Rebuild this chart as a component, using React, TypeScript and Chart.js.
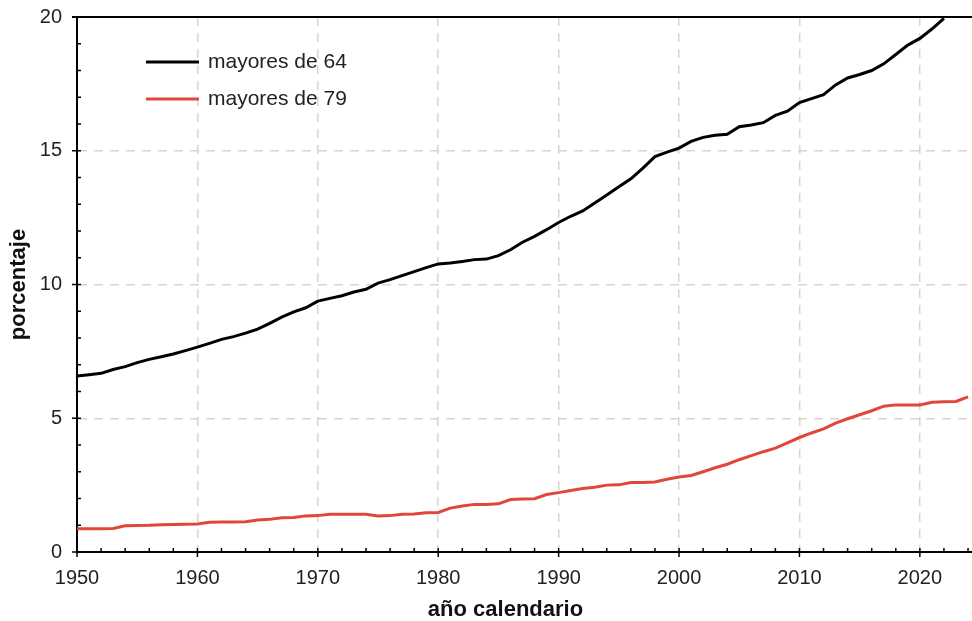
import React, { useEffect, useRef } from 'react';
import { Chart, registerables } from 'chart.js';

Chart.register(...registerables);

const years = [
  1950, 1951, 1952, 1953, 1954, 1955, 1956, 1957, 1958, 1959,
  1960, 1961, 1962, 1963, 1964, 1965, 1966, 1967, 1968, 1969,
  1970, 1971, 1972, 1973, 1974, 1975, 1976, 1977, 1978, 1979,
  1980, 1981, 1982, 1983, 1984, 1985, 1986, 1987, 1988, 1989,
  1990, 1991, 1992, 1993, 1994, 1995, 1996, 1997, 1998, 1999,
  2000, 2001, 2002, 2003, 2004, 2005, 2006, 2007, 2008, 2009,
  2010, 2011, 2012, 2013, 2014, 2015, 2016, 2017, 2018, 2019,
  2020, 2021, 2022, 2023, 2024,
];

// porcentaje de la población mayor de 64 años (1950–2022)
const mayores64 = [
  6.58, 6.63, 6.68, 6.82, 6.93, 7.08, 7.2, 7.3, 7.4, 7.53,
  7.66, 7.8, 7.95, 8.05, 8.18, 8.33, 8.55, 8.78, 8.98, 9.13,
  9.38, 9.48, 9.58, 9.72, 9.82, 10.05, 10.18, 10.33, 10.48, 10.63,
  10.77, 10.8, 10.86, 10.93, 10.95, 11.08, 11.3, 11.58, 11.8, 12.05,
  12.32, 12.55, 12.75, 13.05, 13.35, 13.65, 13.95, 14.35, 14.78, 14.95,
  15.1, 15.35, 15.5, 15.58, 15.62, 15.9, 15.96, 16.05, 16.32, 16.48,
  16.8, 16.95, 17.1, 17.46, 17.72, 17.85, 18.0, 18.25, 18.6, 18.95,
  19.2, 19.55, 19.95,
];

// porcentaje de la población mayor de 79 años (1950–2024)
const mayores79 = [
  0.87, 0.87, 0.87, 0.88, 0.98, 0.99, 1.0, 1.02, 1.03, 1.04,
  1.05, 1.11, 1.12, 1.12, 1.13, 1.2, 1.22, 1.28, 1.29, 1.35,
  1.36, 1.41, 1.41, 1.41, 1.41, 1.35, 1.36, 1.41, 1.42, 1.47,
  1.48, 1.64, 1.72, 1.78, 1.78, 1.8, 1.96, 1.98, 1.99, 2.15,
  2.22, 2.3, 2.37, 2.42, 2.5, 2.51, 2.6, 2.6, 2.62, 2.72,
  2.8, 2.86, 3.0, 3.15, 3.28, 3.45, 3.6, 3.75, 3.88, 4.08,
  4.28, 4.45, 4.6, 4.82, 4.98, 5.13, 5.28, 5.45, 5.5, 5.5,
  5.5, 5.6, 5.62, 5.63, 5.8,
];

const seriesLabels = ['mayores de 64', 'mayores de 79'];
const seriesColors = ['#000000', '#e0473a'];
const xTickValues = [1950, 1960, 1970, 1980, 1990, 2000, 2010, 2020];
const yTickValues = [0, 5, 10, 15, 20];
const xTitle = 'año calendario';
const yTitle = 'porcentaje';

const FONT = '"Liberation Sans", Arial, Helvetica, sans-serif';

const decorPlugin = {
  id: 'decor',
  afterDraw(chart: any) {
    const { ctx, chartArea } = chart;
    const xs = chart.scales.x;
    const ys = chart.scales.y;
    ctx.save();
    ctx.strokeStyle = '#000';
    // top frame line
    ctx.lineWidth = 2;
    ctx.beginPath();
    ctx.moveTo(chartArea.left - 5, chartArea.top);
    ctx.lineTo(chartArea.right, chartArea.top);
    ctx.stroke();
    // x ticks
    ctx.lineWidth = 1.5;
    for (let yr = Math.ceil(xs.min); yr <= xs.max; yr++) {
      if (yr % 2 !== 0) continue;
      const px = xs.getPixelForValue(yr);
      const major = yr % 10 === 0;
      ctx.beginPath();
      ctx.moveTo(px, chartArea.bottom - 4);
      ctx.lineTo(px, chartArea.bottom + (major ? 5 : 0));
      ctx.stroke();
    }
    // y ticks
    for (let v = ys.min; v <= ys.max; v++) {
      const py = ys.getPixelForValue(v);
      const major = v % 5 === 0;
      ctx.beginPath();
      ctx.moveTo(chartArea.left - (major ? 5 : 0), py);
      ctx.lineTo(chartArea.left + 4, py);
      ctx.stroke();
    }
    // legend
    const legX = chartArea.left + 69;
    const legY = [chartArea.top + 45, chartArea.top + 82];
    chart.data.datasets.forEach((ds: any, i: number) => {
      ctx.strokeStyle = ds.borderColor;
      ctx.lineWidth = 3;
      ctx.beginPath();
      ctx.moveTo(legX, legY[i]);
      ctx.lineTo(legX + 53, legY[i]);
      ctx.stroke();
      ctx.fillStyle = '#222';
      ctx.font = `21px ${FONT}`;
      ctx.textAlign = 'left';
      ctx.textBaseline = 'middle';
      ctx.fillText(ds.label, legX + 62, legY[i]);
    });
    // x title
    ctx.fillStyle = '#111';
    ctx.font = `bold 22px ${FONT}`;
    ctx.textAlign = 'center';
    ctx.textBaseline = 'alphabetic';
    ctx.fillText(xTitle, (chartArea.left + chartArea.right) / 2 - 19, chart.height - 5);
    ctx.restore();
  },
};

export default function App() {
  const canvasRef = useRef<HTMLCanvasElement | null>(null);

  useEffect(() => {
    document.body.style.margin = '0';
    const canvas = canvasRef.current;
    if (!canvas) return;
    const chart = new Chart(canvas, {
      type: 'line',
      data: {
        datasets: [
          {
            label: seriesLabels[0],
            data: mayores64.map((v, i) => ({ x: years[i], y: v })),
            borderColor: seriesColors[0],
            borderWidth: 3,
            pointRadius: 0,
            tension: 0,
          },
          {
            label: seriesLabels[1],
            data: mayores79.map((v, i) => ({ x: years[i], y: v })),
            borderColor: seriesColors[1],
            borderWidth: 3,
            pointRadius: 0,
            tension: 0,
          },
        ],
      },
      plugins: [decorPlugin],
      options: {
        responsive: false,
        animation: false,
        events: [],
        layout: { padding: { top: 17, right: 0, left: 0, bottom: 0 } },
        plugins: {
          legend: { display: false },
          tooltip: { enabled: false },
          title: { display: false },
        },
        scales: {
          x: {
            type: 'linear',
            min: 1950,
            max: 2024.33,
            afterFit: (s: any) => {
              s.height = 69;
              s.paddingLeft = 0;
              s.paddingRight = 0;
            },
            afterBuildTicks: (s: any) => { s.ticks = xTickValues.map((v) => ({ value: v })); },
            ticks: {
              font: { family: FONT, size: 20 },
              color: '#222',
              padding: 14,
              maxRotation: 0,
              autoSkip: false,
              callback: (v: any) => String(v),
            },
            grid: {
              color: '#dcd4cd',
              lineWidth: 1.5,
              drawTicks: false,
            },
            border: { display: true, color: '#000', width: 2, dash: [9, 7] },
          },
          y: {
            type: 'linear',
            min: 0,
            max: 20,
            afterFit: (s: any) => {
              s.width = 77;
              s.paddingTop = 0;
              s.paddingBottom = 0;
            },
            afterBuildTicks: (s: any) => { s.ticks = yTickValues.map((v) => ({ value: v })); },
            ticks: {
              font: { family: FONT, size: 20 },
              color: '#222',
              padding: 15,
              callback: (v: any) => String(v),
            },
            grid: {
              color: '#dcd4cd',
              lineWidth: 1.5,
              drawTicks: false,
            },
            border: { display: true, color: '#000', width: 2, dash: [9, 7] },
            title: {
              display: true,
              text: yTitle,
              font: { family: FONT, size: 22, weight: 'bold' },
              color: '#111',
              padding: { top: 6, bottom: 0 },
            },
          },
        },
      },
    });
    return () => chart.destroy();
  }, []);

  return (
    <div style={{ width: 972, height: 621 }}>
      <canvas ref={canvasRef} width={972} height={621} />
    </div>
  );
}
